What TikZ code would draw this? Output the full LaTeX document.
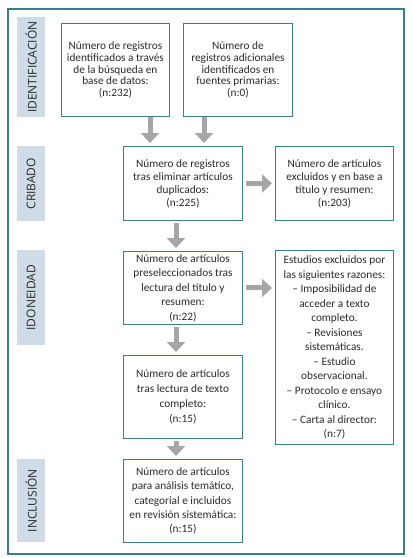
\documentclass[tikz,border=0pt]{standalone}
\usepackage{fontspec}
\setmainfont{Carlito}
\newfontfamily\labfont{Open Sans}
\usetikzlibrary{arrows.meta}
\definecolor{frame}{HTML}{3A7F87}
\definecolor{labbg}{HTML}{CFDCE8}
\definecolor{arrgray}{HTML}{A6A6A6}
\definecolor{txt}{HTML}{2A2A2A}
\tikzset{
  box/.style={draw=frame, line width=0.9pt, fill=white, anchor=north west, align=center,
    inner xsep=1pt, inner ysep=0pt, text=txt, font=\fontsize{11.3}{#1}\selectfont},
  box/.default=12.5,
  lab/.style={fill=labbg, anchor=north west, inner sep=0pt},
  labtxt/.style={rotate=90, font=\labfont\fontsize{12}{13}\selectfont, text=txt, inner sep=0pt},
  garrow/.style={draw=arrgray, line width=5pt, -{Triangle[width=18pt,length=10pt]}},
}
\begin{document}
\begin{tikzpicture}[x=1pt,y=-1pt]
\useasboundingbox (0,0) rectangle (413,558);
\draw[frame, line width=1.3pt] (8,9) rectangle (404,554);
% side labels
\node[lab, minimum width=28pt, minimum height=100pt] (l1) at (17,17) {};
\node[labtxt] at (l1.center) {IDENTIFICACIÓN};
\node[lab, minimum width=28pt, minimum height=75pt] (l2) at (17,146) {};
\node[labtxt] at (l2.center) {CRIBADO};
\node[lab, minimum width=28pt, minimum height=95pt] (l3) at (17,250) {};
\node[labtxt] at (l3.center) {IDONEIDAD};
\node[lab, minimum width=28pt, minimum height=83pt] (l4) at (17,459) {};
\node[labtxt] at (l4.center) {INCLUSIÓN};
% boxes
\node[box=11.7, minimum width=108pt, minimum height=93pt] (b1) at (61,23)
  {Número de registros\\identificados a través\\de la búsqueda en\\base de datos:\\(n:232)};
\node[box=11.7, minimum width=109pt, minimum height=93pt] (b2) at (183,23)
  {Número de\\registros adicionales\\identificados en\\fuentes primarias:\\(n:0)};
\node[box=13, minimum width=119pt, minimum height=74pt] (b3) at (123,146)
  {Número de registros\\tras eliminar artículos\\duplicados:\\(n:225)};
\node[box=13, minimum width=118pt, minimum height=74pt] (b4) at (275,146)
  {Número de artículos\\excluidos y en base a\\título y resumen:\\(n:203)};
\node[box=14.5, minimum width=119pt, minimum height=73pt] (b5) at (123,251)
  {Número de artículos\\preseleccionados tras\\lectura del título y\\resumen:\\(n:22)};
\node[box=14.5, minimum width=118pt, minimum height=194pt] (b6) at (275,250)
  {Estudios excluidos por\\las siguientes razones:\\– Imposibilidad de\\acceder a texto\\completo.\\– Revisiones\\sistemáticas.\\– Estudio\\observacional.\\– Protocolo e ensayo\\clínico.\\– Carta al director:\\(n:7)};
\node[box=15, minimum width=119pt, minimum height=83pt] (b7) at (123,355)
  {Número de artículos\\tras lectura de texto\\completo:\\(n:15)};
\node[box=14.2, minimum width=119pt, minimum height=83pt] (b8) at (123,459)
  {Número de artículos\\para análisis temático,\\categorial e incluidos\\en revisión sistemática:\\(n:15)};
% arrow columns
\coordinate (c1) at (150,0);
\coordinate (c2) at (204,0);
\coordinate (c3) at (176,0);
% arrows
\draw[garrow, shorten <=0.5pt, shorten >=3pt] (b1.south -| c1) -- (b3.north -| c1);
\draw[garrow, shorten <=0.5pt, shorten >=3pt] (b2.south -| c2) -- (b3.north -| c2);
\draw[garrow, shorten <=3pt, shorten >=3pt] (b3.east) -- (b4.west);
\draw[garrow, shorten <=2pt, shorten >=3pt] (b3.south -| c3) -- (b5.north -| c3);
\draw[garrow, shorten <=3pt, shorten >=3pt] (b5.east) -- (b5.east -| b6.west);
\draw[garrow, shorten <=2pt, shorten >=3pt] (b5.south -| c3) -- (b7.north -| c3);
\draw[garrow, shorten <=2pt, shorten >=3pt] (b7.south -| c3) -- (b8.north -| c3);
\end{tikzpicture}
\end{document}
